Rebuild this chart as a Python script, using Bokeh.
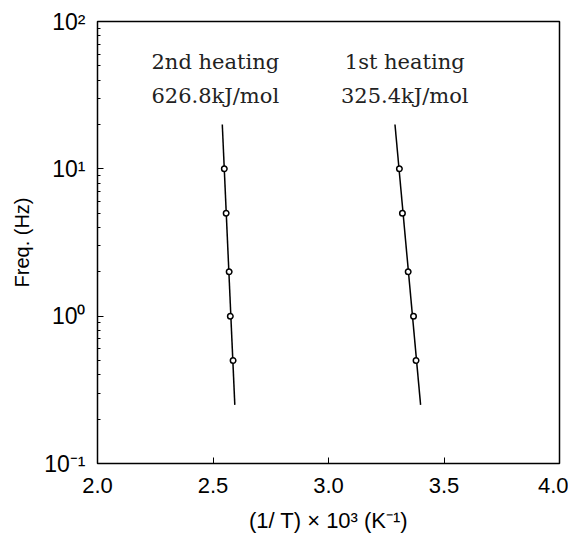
import numpy as np
from bokeh.plotting import figure
from bokeh.models import FixedTicker, ColumnDataSource
from bokeh.core.properties import value
from bokeh.embed import file_html
from bokeh.resources import INLINE

freq = [10, 5, 2, 1, 0.5]
inv_t_2nd = [2.549, 2.557, 2.570, 2.575, 2.587]
inv_t_1st = [3.307, 3.320, 3.345, 3.368, 3.379]
fit_freq_range = [20, 0.25]

series_names = ["2nd heating", "1st heating"]
energies = ["626.8kJ/mol", "325.4kJ/mol"]
label_x = [2.51, 3.33]
label_y_name = 53
label_y_energy = 31

x_ticks = [2.0, 2.5, 3.0, 3.5, 4.0]
y_tick_labels = {0.1: "10\u207b\u00b9", 1: "10\u2070", 10: "10\u00b9", 100: "10\u00b2"}

p = figure(width=568, height=545, x_range=(2.0, 4.0), y_range=(0.1, 100),
           y_axis_type="log", output_backend="svg", toolbar_location=None,
           min_border_left=97, min_border_top=21, min_border_right=9, min_border_bottom=82)
p.grid.visible = False
p.outline_line_color = "black"
p.outline_line_width = 1.5
p.background_fill_color = "white"
p.border_fill_color = "white"

for xs in (inv_t_2nd, inv_t_1st):
    slope, intercept = np.polyfit(np.log10(freq), xs, 1)
    fx = [slope * np.log10(f) + intercept for f in fit_freq_range]
    p.line(fx, fit_freq_range, line_color="black", line_width=1.5)
    p.scatter(xs, freq, marker="circle", size=5.5, fill_color="white",
              line_color="black", line_width=1.5)

src = ColumnDataSource(dict(x=label_x, name=series_names, energy=energies,
                            yn=[label_y_name] * 2, ye=[label_y_energy] * 2))
p.text(x="x", y="yn", text="name", source=src, text_align="center", text_baseline="middle",
       text_font=value("DejaVu Serif"), text_font_size="21px", text_color="#222222")
p.text(x="x", y="ye", text="energy", source=src, text_align="center", text_baseline="middle",
       text_font=value("DejaVu Serif"), text_font_size="21px", text_color="#222222")

xa = p.xaxis[0]
xa.ticker = FixedTicker(ticks=x_ticks)
xa.major_label_overrides = {2.0: "2.0", 2.5: "2.5", 3.0: "3.0", 3.5: "3.5", 4.0: "4.0"}
xa.major_tick_in = 6
xa.major_tick_out = 0
xa.minor_tick_in = 0
xa.minor_tick_out = 0
xa.axis_line_color = None
xa.major_label_text_font = "Liberation Sans"
xa.major_label_text_font_size = "22px"
xa.major_label_text_color = "black"
xa.major_label_standoff = 14
xa.axis_label = "(1/ T) \u00d7 10\u00b3 (K\u207b\u00b9)"
xa.axis_label_text_font = "Liberation Sans"
xa.axis_label_text_font_style = "normal"
xa.axis_label_text_font_size = "22px"
xa.axis_label_text_color = "black"
xa.axis_label_standoff = 12

ya = p.yaxis[0]
ya.ticker.desired_num_ticks = 4
ya.major_label_overrides = y_tick_labels
ya.major_tick_in = 6
ya.major_tick_out = 0
ya.minor_tick_in = 3
ya.minor_tick_out = 0
ya.axis_line_color = None
ya.major_label_text_font = "Liberation Sans"
ya.major_label_text_font_size = "23px"
ya.major_label_text_color = "black"
ya.major_label_standoff = 12
ya.axis_label = "Freq. (Hz)"
ya.axis_label_text_font = "Liberation Sans"
ya.axis_label_text_font_style = "normal"
ya.axis_label_text_font_size = "20px"
ya.axis_label_text_color = "black"
ya.axis_label_standoff = 8

open("out.html", "w").write(file_html(p, INLINE))
